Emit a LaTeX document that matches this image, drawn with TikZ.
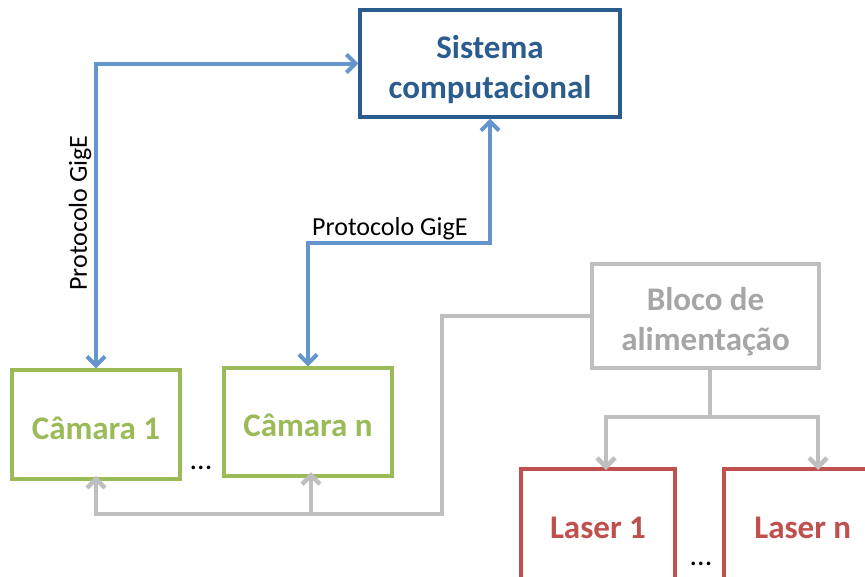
\documentclass[tikz,border=0pt]{standalone}
\usepackage{fontspec}
\setmainfont{Carlito}
\usetikzlibrary{arrows.meta}
\definecolor{sysblue}{HTML}{2B5C8E}
\definecolor{linkblue}{HTML}{6495CD}
\definecolor{camgreen}{HTML}{9BBB59}
\definecolor{lasred}{HTML}{C0504D}
\definecolor{pwrgray}{HTML}{BFBFBF}
\definecolor{pwrtext}{HTML}{A6A6A6}
% block text, set a little below the geometric centre of its box
\newcommand{\blocktext}[2][-6.5pt]{\raisebox{#1}[\height][\depth]{\begin{tabular}{@{}c@{}}#2\end{tabular}}}
\tikzset{
  block/.style={draw, line width=3.5pt, inner sep=0pt, align=center,
    font=\bfseries\fontsize{33}{40}\selectfont},
  barb/.tip={Straight Barb[length=9pt,width=18pt]},
  gige/.style={draw=linkblue, line width=4pt, barb-barb},
  power/.style={draw=pwrgray, line width=4.5pt},
  lbl/.style={font=\fontsize{26}{30}\selectfont, inner sep=0pt},
  dotlbl/.style={font=\fontsize{30}{30}\selectfont, inner sep=0pt},
}
\begin{document}
\begin{tikzpicture}[x=1pt,y=-1pt]
\useasboundingbox (0,0) rectangle (865,576);
\clip (0,0) rectangle (865,576);

% blocks
\node[block, draw=sysblue, text=sysblue, minimum width=260pt, minimum height=107pt]
  (sys) at (490,63.5) {\blocktext{Sistema\\computacional}};
\node[block, draw=camgreen, text=camgreen, minimum width=168pt, minimum height=109pt]
  (cam1) at (96,424.5) {\blocktext{Câmara 1}};
\node[block, draw=camgreen, text=camgreen, minimum width=168pt, minimum height=108pt]
  (camn) at (308,422) {\blocktext{Câmara n}};
\node[block, draw=pwrgray, text=pwrtext, minimum width=227pt, minimum height=104pt]
  (pwr) at (705.5,316) {\blocktext{Bloco de\\alimentação}};
\node[block, draw=lasred, text=lasred, minimum width=154pt, minimum height=120pt, anchor=north]
  (las1) at (598,467) {\blocktext[-2pt]{Laser 1}};
\node[block, draw=lasred, text=lasred, minimum width=158pt, minimum height=120pt, anchor=north west]
  (lasn) at (722,467) {\blocktext[-2pt]{Laser n}};

% ellipses between repeated units
\node[dotlbl] (dots1) at (201,468) {...};
\node[dotlbl] (dots2) at (701,564) {...};

% GigE links
\draw[gige] (cam1.north) |- (sys.west);
\coordinate (bend) at (sys.south |- 0,243);
\draw[gige] (camn.north) |- (bend) -- (sys.south);
\node[lbl, rotate=90] (gige1) at (80,213) {Protocolo GigE};
\node[lbl, anchor=south west] (gige2) at (312,240) {Protocolo GigE};

% power distribution to the cameras
\coordinate (pcorner) at (442,316);
\coordinate (pbottom) at (442,514);
\coordinate (c1foot) at (96,514);
\coordinate (cnfoot) at (311,514);
\coordinate (cnin) at (311,476);
\draw[power, -barb] (pwr.west) -- (pcorner) -- (pbottom) -- (c1foot) -- ([yshift=5pt]cam1.south);
\draw[power, -barb] (cnfoot) -- ([yshift=4pt]cnin);

% power distribution to the lasers
\coordinate (pdrop) at (710,417);
\coordinate (l1top) at (606,417);
\coordinate (lntop) at (818,417);
\draw[power] (pwr.south -| pdrop) -- (pdrop);
\draw[power, -barb] (pdrop) -- (l1top) -- ([yshift=-3pt]l1top |- las1.north);
\draw[power, -barb] (pdrop) -- (lntop) -- ([yshift=-3pt]lntop |- lasn.north);
\end{tikzpicture}
\end{document}
